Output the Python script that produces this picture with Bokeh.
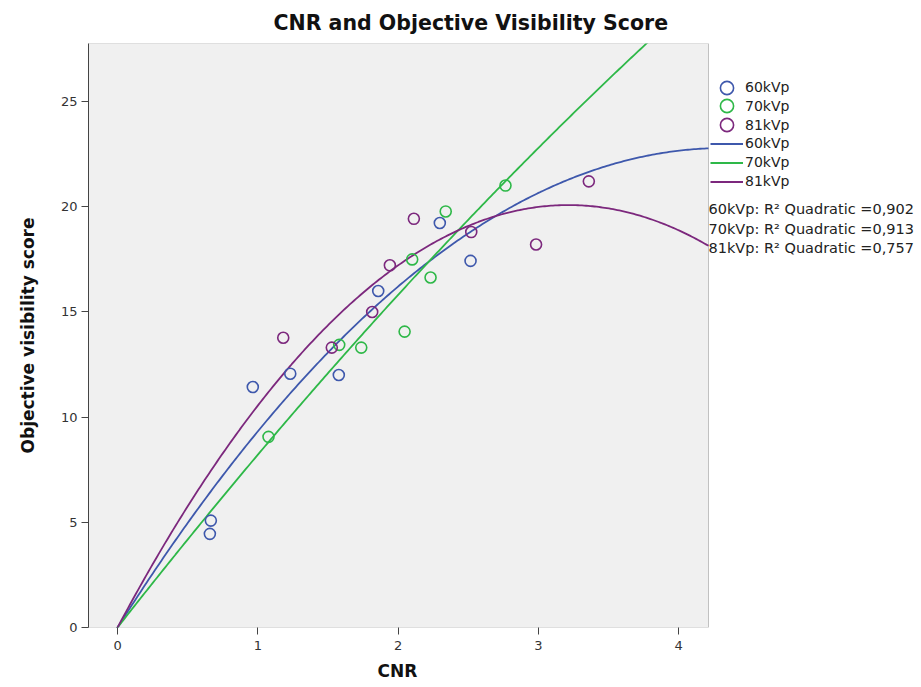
import numpy as np
from bokeh.plotting import figure
from bokeh.models import (Range1d, Legend, LegendItem, Label, FixedTicker,
                          BoxAnnotation, Title)
from bokeh.embed import file_html
from bokeh.resources import INLINE

# ---------------- data ----------------
series = ["60kVp", "70kVp", "81kVp"]
colors = ["#3E58AC", "#2EB848", "#7C287D"]

cnr_60 = [0.658, 0.665, 0.964, 1.231, 1.577, 1.858, 2.297, 2.516]
ovs_60 = [4.45, 5.08, 11.43, 12.06, 12.00, 15.99, 19.22, 17.42]
cnr_70 = [1.076, 1.580, 1.737, 2.046, 2.100, 2.231, 2.339, 2.765]
ovs_70 = [9.06, 13.43, 13.30, 14.06, 17.49, 16.63, 19.77, 21.00]
cnr_81 = [1.181, 1.527, 1.815, 1.941, 2.112, 2.521, 2.983, 3.359]
ovs_81 = [13.77, 13.30, 14.99, 17.21, 19.42, 18.79, 18.20, 21.20]

# quadratic fit coefficients: y = b1*x + b2*x^2
fit_60 = (10.54, -1.219)
fit_70 = (8.518, -0.307)
fit_81 = (12.49, -1.943)

r2_labels = ["60kVp: R\u00b2 Quadratic =0,902",
             "70kVp: R\u00b2 Quadratic =0,913",
             "81kVp: R\u00b2 Quadratic =0,757"]

x_ticks = [0, 1, 2, 3, 4]
y_ticks = [0, 5, 10, 15, 20, 25]

FONT = "DejaVu Sans"
X0, X1 = -0.207, 4.212      # plot-area x extent
Y0, Y1 = 0.0, 27.75

W, H = 921, 687
LEFT, TOP, BOTTOM = 88, 42, 60
AREA_W = 620                     # plot area width in px (88 -> 708)
frame_w = W - LEFT               # frame extended to right edge (legend room)
ppu = AREA_W / (X1 - X0)
X_END = X0 + frame_w / ppu
frame_h = H - TOP - BOTTOM
ppu_y = frame_h / (Y1 - Y0)

p = figure(width=W, height=H, output_backend="svg", toolbar_location=None,
           x_range=Range1d(X0, X_END), y_range=Range1d(Y0, Y1),
           min_border_left=LEFT, min_border_right=0, min_border_top=TOP,
           min_border_bottom=BOTTOM)
p.background_fill_color = "white"
p.border_fill_color = "white"
p.outline_line_color = None
p.grid.visible = False

# plot area box
p.add_layout(BoxAnnotation(left=X0, right=X1, bottom=Y0, top=Y1,
                           fill_color="#F0F0F0", fill_alpha=1.0,
                           line_color="#444444", line_width=1, level="underlay"))

p.title.text = "CNR and Objective Visibility Score"
p.title.align = "left"
p.title.offset = 185
p.title.text_font = FONT
p.title.text_font_size = "20.5px"
p.title.text_font_style = "bold"
p.title.text_color = "#111111"
p.title.standoff = 17

for ax, ticks in ((p.xaxis, x_ticks), (p.yaxis, y_ticks)):
    ax.ticker = FixedTicker(ticks=ticks)
    ax.major_tick_out = 7
    ax.major_tick_in = 0
    ax.minor_tick_out = 0
    ax.minor_tick_in = 0
    ax.major_tick_line_color = "#444444"
    ax.major_label_text_font = FONT
    ax.major_label_text_font_size = "13px"
    ax.major_label_text_color = "#333333"
    ax.axis_label_text_font = FONT
    ax.axis_label_text_font_size = "17px"
    ax.axis_label_text_font_style = "bold"
    ax.axis_label_text_color = "#111111"

p.xaxis.axis_line_color = None
p.yaxis.axis_line_color = "#444444"
p.xaxis.major_label_standoff = 6
p.yaxis.axis_label = "Objective visibility score"
p.yaxis.major_label_standoff = 4
p.yaxis.axis_label_standoff = 20

# x-axis title, centred under the plot area
p.add_layout(Title(text="CNR", align="left", offset=289, standoff=12,
                   text_font=FONT, text_font_size="17px", text_font_style="bold",
                   text_color="#111111"), "below")

xs_fit = np.linspace(X0, X1, 300)
scatters, lines = [], []
for fit, col in ((fit_60, colors[0]), (fit_70, colors[1]), (fit_81, colors[2])):
    yf = fit[0] * xs_fit + fit[1] * xs_fit ** 2
    ln = p.line(xs_fit, yf, line_color=col, line_width=1.8)
    lines.append(ln)
for cx, cy, col in ((cnr_60, ovs_60, colors[0]),
                    (cnr_70, ovs_70, colors[1]),
                    (cnr_81, ovs_81, colors[2])):
    sc = p.scatter(cx, cy, marker="circle", size=11, fill_alpha=0,
                   line_color=col, line_width=1.6)
    scatters.append(sc)

# legend: one Legend per row so that glyphs can be larger than the row pitch
entries = list(zip(series, scatters)) + list(zip(series, lines))
GLYPH = 33
for i, (s, r) in enumerate(entries):
    center = 87 + i * 18.8                     # row centre, px from top
    loc_y = (TOP + frame_h) - center - GLYPH / 2
    lg = Legend(items=[LegendItem(label=s, renderers=[r])],
                location=(622, loc_y), padding=0, margin=0,
                border_line_color=None, background_fill_alpha=0,
                glyph_width=GLYPH, glyph_height=GLYPH, label_height=GLYPH,
                spacing=0, label_standoff=2, label_text_font=FONT,
                label_text_font_size="14px", label_text_color="#222222")
    p.add_layout(lg)

# R^2 annotations right of the plot area
for i, t in enumerate(r2_labels):
    ypage = 208 + i * 19.5
    ydata = Y1 - (ypage - TOP) / ppu_y
    p.add_layout(Label(x=X1, y=ydata, text=t, text_font=FONT,
                       text_font_size="14.5px", text_color="#222222",
                       text_baseline="middle", text_align="left"))

open("out.html", "w").write(file_html(p, INLINE))
